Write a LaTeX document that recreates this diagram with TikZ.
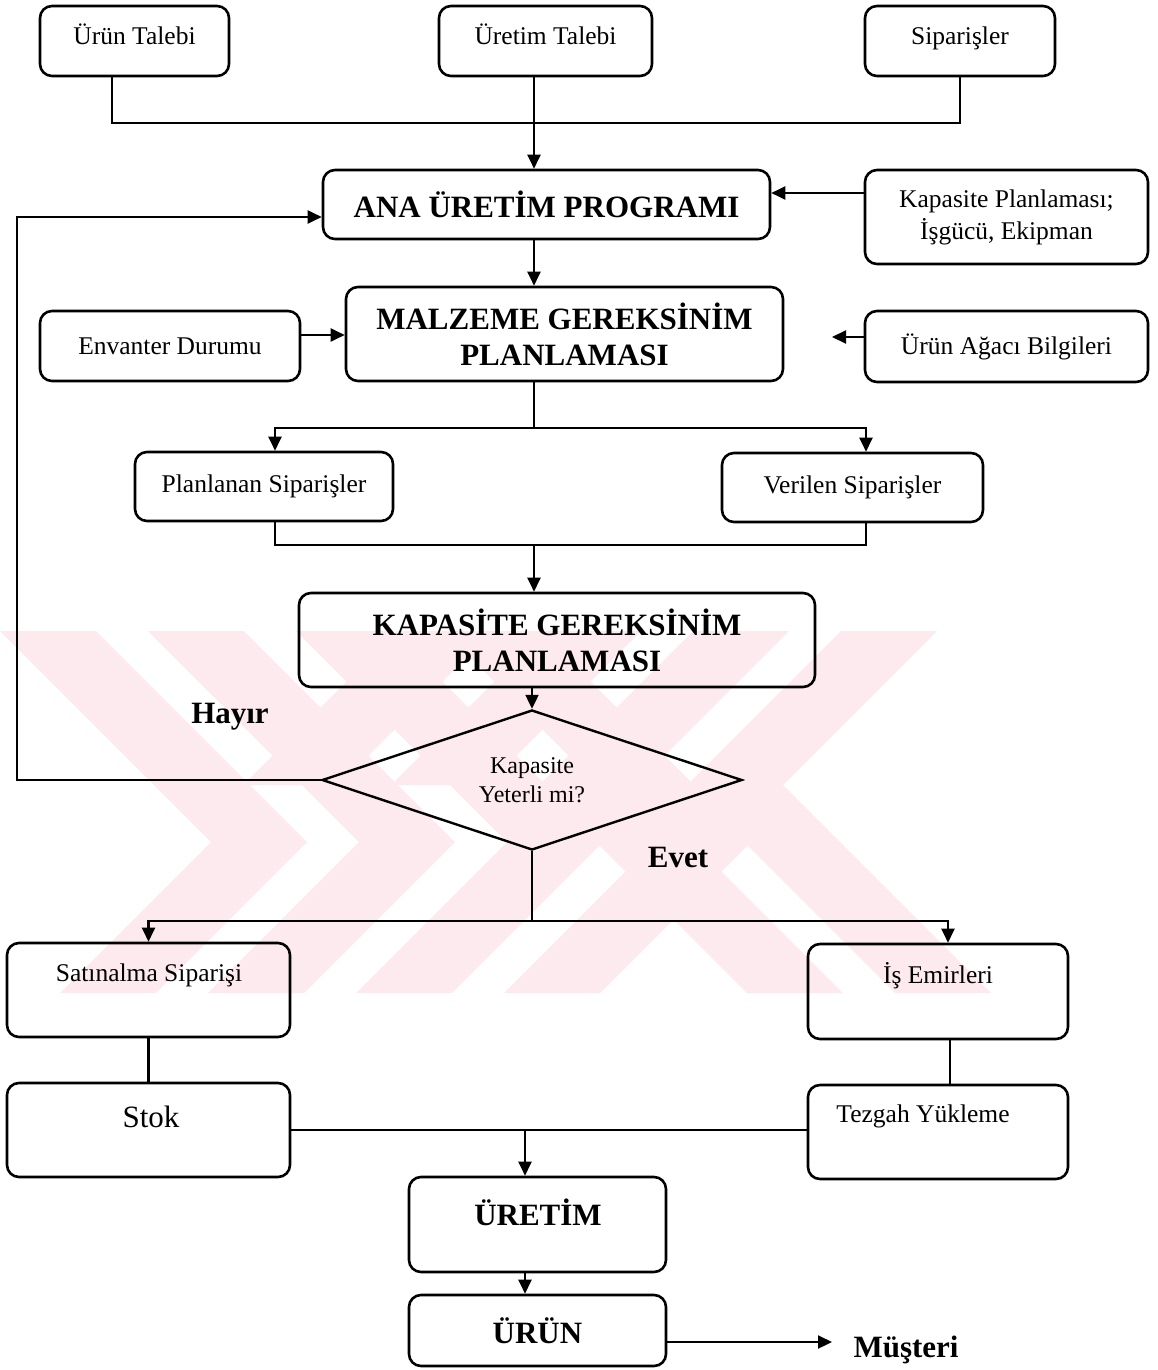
\documentclass[tikz,border=0pt]{standalone}
\usepackage{fontspec}
\setmainfont{Liberation Serif}
\usetikzlibrary{arrows.meta,shapes.geometric,calc}
\definecolor{wmpink}{RGB}{253,234,238}
\begin{document}
\begin{tikzpicture}[x=1pt,y=-1pt,
  box/.style={draw, line width=2.6pt, rounded corners=12pt, inner sep=0pt, align=center},
  reg/.style={font=\fontsize{25.5}{32}\selectfont},
  bld/.style={font=\bfseries\fontsize{31}{36}\selectfont},
  raised/.style={text height=18pt, text depth=10pt},
  conn/.style={line width=2.2pt},
  arr/.style={conn, -{Triangle[length=14pt,width=13pt]}},
  lbl/.style={inner sep=0pt, align=center}]
\useasboundingbox (0,0) rectangle (1157,1370);

% faint chevron emblem in the background
\begin{scope}
  \clip (0,631) rectangle (1157,993);
  % chevrons pointing right
  \foreach \a in {0,148,296,444}
    \fill[wmpink] (\a,631) -- ++(96,0) -- ++(211,211) -- ++(-151,151) -- ++(-96,0) -- ++(151,-151) -- cycle;
  % chevrons pointing left
  \foreach \r in {937,789}
    \fill[wmpink] (\r,631) -- ++(-154,154) -- ++(208,208) -- ++(-96,0) -- ++(-208,-208) -- ++(154,-154) -- cycle;
  % short bars ending at the middle
  \foreach \r in {641,493}
    \fill[wmpink] (\r,631) -- ++(-154,154) -- ++(-96,0) -- ++(154,-154) -- cycle;
\end{scope}

% inputs
\node[box, reg, raised, minimum width=189pt, minimum height=70pt] (ut)  at (134.5,41) {Ürün Talebi};
\node[box, reg, raised, minimum width=213pt, minimum height=70pt] (ret) at (545.5,41) {Üretim Talebi};
\node[box, reg, raised, minimum width=190pt, minimum height=70pt] (sip) at (960,41)   {Siparişler};

% planning blocks
\node[box, bld, minimum width=447pt, minimum height=69pt] (ana) at (546.5,204.5) {ANA ÜRETİM PROGRAMI};
\node[box, reg, minimum width=283pt, minimum height=94pt] (kap) at (1006.5,217) {Kapasite Planlaması;\\İşgücü, Ekipman};
\node[box, bld, minimum width=437pt, minimum height=94pt] (mrp) at (564.5,334) {MALZEME GEREKSİNİM\\PLANLAMASI};
\node[box, reg, minimum width=260pt, minimum height=70pt] (env) at (170,346) {Envanter Durumu};
\node[box, reg, minimum width=283pt, minimum height=71pt] (bom) at (1006.5,346.5) {Ürün Ağacı Bilgileri};
\node[box, reg, minimum width=258pt, minimum height=69pt] (pla) at (264,486.5) {Planlanan Siparişler};
\node[box, reg, minimum width=261pt, minimum height=69pt] (ver) at (852.5,487.5) {Verilen Siparişler};
\node[box, bld, minimum width=516pt, minimum height=94pt] (crp) at (557,640) {KAPASİTE GEREKSİNİM\\PLANLAMASI};

% decision
\node[draw, diamond, line width=2.4pt, aspect=3, minimum width=420pt, minimum height=140pt,
      inner sep=0pt, align=center, font=\fontsize{24}{29}\selectfont] (dia) at (532,780) {Kapasite\\Yeterli mi?};
\node[lbl, bld] (hay) at (230,717) {Hayır};
\node[lbl, bld] (evt) at (678,857) {Evet};

% execution blocks
\node[box, minimum width=283pt, minimum height=94pt] (sat) at (148.5,990) {};
\node[lbl, reg] (satt) at (149,975) {Satınalma Siparişi};
\node[box, minimum width=260pt, minimum height=95pt] (ise) at (938,991.5) {};
\node[lbl, reg] (iset) at (938,976) {İş Emirleri};
\node[box, minimum width=283pt, minimum height=94pt] (stk) at (148.5,1130) {};
\node[lbl, font=\fontsize{31}{36}\selectfont] (stkt) at (151,1117) {Stok};
\node[box, minimum width=260pt, minimum height=94pt] (tez) at (938,1132) {};
\node[lbl, reg] (tezt) at (923,1116) {Tezgah Yükleme};
\node[box, minimum width=257pt, minimum height=95pt] (pro) at (537.5,1224.5) {};
\node[lbl, bld] (prot) at (538,1212) {ÜRETİM};
\node[box, bld, minimum width=257pt, minimum height=71pt] (urn) at (537.5,1330.5) {ÜRÜN};
\node[lbl, bld] (must) at (906,1350) {Müşteri};

% routing points
\coordinate (xut) at (112,0);
\coordinate (j1) at (534,123);
\coordinate (loopc) at (17,217);
\coordinate (yk) at (0,193);
\coordinate (ye) at (0,335);
\coordinate (bomtip) at (832,337);
\coordinate (j2) at (534,428);
\coordinate (xpl) at (275,0);
\coordinate (xvr) at (866,0);
\coordinate (j3) at (534,545);
\coordinate (j4) at (532,921);
\coordinate (xise) at (948,0);
\coordinate (xtz) at (950,0);
\coordinate (j5) at (525,1130);
\coordinate (mtip) at (832,1342);

% connectors
\draw[conn] (ut.south -| xut) |- (j1) -| (sip.south);
\draw[arr] (ret.south -| j1) -- (ana.north -| j1);
\draw[arr] (kap.west |- yk) -- (ana.east |- yk);
\draw[arr] (dia.west) -| (loopc) -- (ana.west |- loopc);
\draw[arr] (ana.south -| j1) -- (mrp.north -| j1);
\draw[arr] (env.east |- ye) -- (mrp.west |- ye);
\draw[arr] (bom.west |- bomtip) -- (bomtip);
\draw[conn] (mrp.south -| j2) -- (j2);
\draw[arr] (j2) -| (pla.north -| xpl);
\draw[arr] (j2) -| (ver.north -| xvr);
\draw[conn] (pla.south -| xpl) |- (j3) -| (ver.south -| xvr);
\draw[arr] (j3) -- (crp.north -| j3);
\draw[arr] (crp.south -| dia.north) -- (dia.north);
\draw[conn] (dia.south) -- (j4);
\draw[arr] (j4) -| (sat.north);
\draw[arr] (j4) -| (ise.north -| xise);
\draw[conn] (sat.south) -- (stk.north);
\draw[conn] (ise.south -| xtz) -- (tez.north -| xtz);
\draw[conn] (stk.east |- j5) -- (tez.west |- j5);
\draw[arr] (j5) -- (pro.north -| j5);
\draw[arr] (pro.south -| j5) -- (urn.north -| j5);
\draw[arr] (urn.east |- mtip) -- (mtip);
\end{tikzpicture}
\end{document}
